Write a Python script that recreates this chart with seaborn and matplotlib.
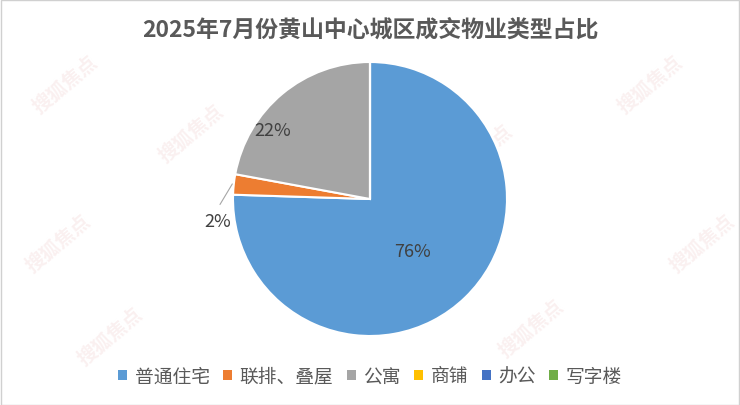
import seaborn as sns
import matplotlib.pyplot as plt
from matplotlib.patches import Patch, Rectangle

sns.set_theme(style="white")
plt.rcParams['font.family'] = ['Noto Sans CJK SC', 'DejaVu Sans']

# 数据
categories = ['普通住宅', '联排、叠屋', '公寓', '商铺', '办公', '写字楼']
shares = [75.5, 2.4, 22.1, 0.0, 0.0, 0.0]
labels = ['76%', '2%', '22%', '', '', '']
colors = ['#5B9BD5', '#ED7D31', '#A5A5A5', '#FFC000', '#4472C4', '#70AD47']

fig = plt.figure(figsize=(7.4, 4.06), dpi=100)
fig.patch.set_facecolor('white')

# 背景水印（很淡）
for wx, wy in [(0.04, 0.72), (0.03, 0.33), (0.21, 0.6), (0.1, 0.1),
               (0.6, 0.55), (0.83, 0.72), (0.67, 0.12), (0.9, 0.33), (0.45, 0.25)]:
    fig.text(wx, wy, '搜狐焦点', fontsize=14, color='#f6e2e2', rotation=40,
             fontweight='bold', alpha=0.5, zorder=-1)

fig.text(0.5, 0.925, '2025年7月份黄山中心城区成交物业类型占比', ha='center', va='center',
         fontsize=16.5, fontweight='bold', color='#595959')

ax = fig.add_axes([233 / 740, 69 / 406, 274 / 740, 274 / 406])
ax.patch.set_alpha(0)
ax.pie(shares, colors=colors, startangle=90, counterclock=False,
       wedgeprops=dict(edgecolor='white', linewidth=1.5))
ax.set_xlim(-1, 1)
ax.set_ylim(-1, 1)
ax.set_aspect('equal')

# 数据标签
label_pos = {0: (0.31, -0.38), 2: (-0.71, 0.50), 1: (-1.11, -0.16)}
for i, (x, y) in label_pos.items():
    ax.text(x, y, labels[i], ha='center', va='center', fontsize=13, color='#404040')
ax.plot([-1.005, -1.095], [0.11, -0.04], color='#a6a6a6', lw=0.8, clip_on=False)

handles = [Patch(facecolor=c, edgecolor='none') for c in colors]
fig.legend(handles, categories, loc='center', bbox_to_anchor=(0.5, 1 - 377 / 406),
           ncol=6, frameon=False, fontsize=13.5, handlelength=0.5, handleheight=0.5,
           handletextpad=0.4, columnspacing=0.7, labelcolor='#595959')

fig.add_artist(Rectangle((0.001, 0.001), 0.997, 0.997, transform=fig.transFigure,
                         fill=False, edgecolor='#d0d0d0', lw=1))

fig.savefig('out.png', dpi=100)
